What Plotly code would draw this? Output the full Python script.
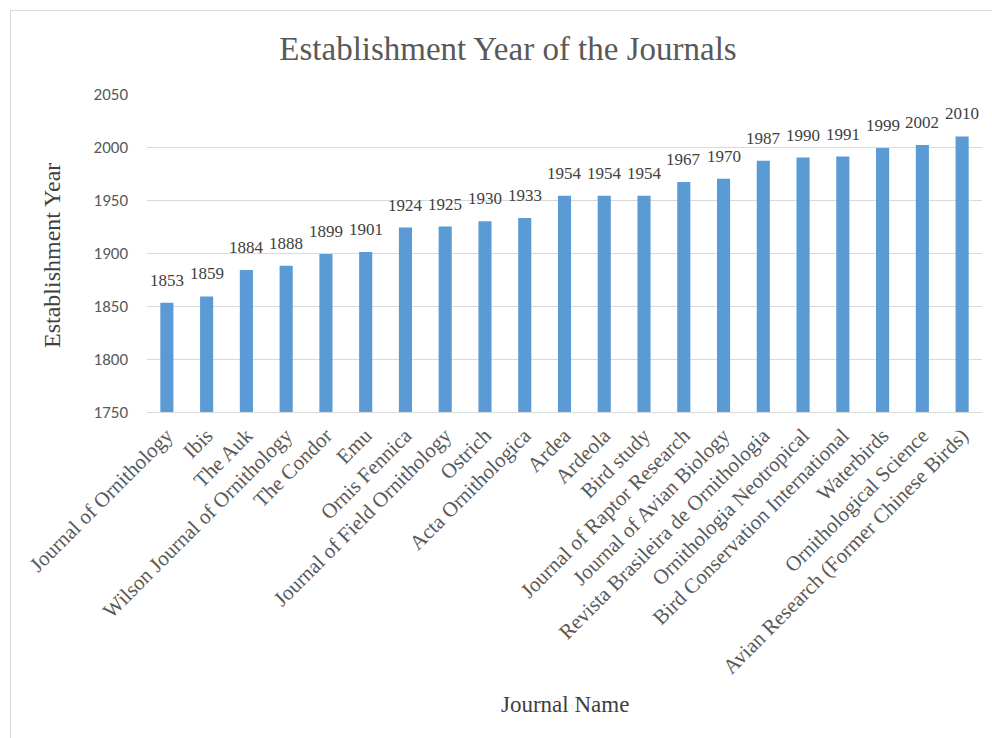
import plotly.graph_objects as go

journals = [
    "Journal of Ornithology", "Ibis", "The Auk", "Wilson Journal of Ornithology",
    "The Condor", "Emu", "Ornis Fennica", "Journal of Field Ornithology", "Ostrich",
    "Acta Ornithologica", "Ardea", "Ardeola", "Bird study", "Journal of Raptor Research",
    "Journal of Avian Biology", "Revista Brasileira de Ornithologia",
    "Ornithologia Neotropical", "Bird Conservation International", "Waterbirds",
    "Ornithological Science", "Avian Research (Former Chinese Birds)",
]
years = [1853, 1859, 1884, 1888, 1899, 1901, 1924, 1925, 1930, 1933, 1954, 1954,
         1954, 1967, 1970, 1987, 1990, 1991, 1999, 2002, 2010]
y_ticks = [1750, 1800, 1850, 1900, 1950, 2000, 2050]

SERIF = "Palatino Linotype, Book Antiqua, Palatino, Liberation Serif, serif"
SANS = "Calibri, Lato, Liberation Sans, sans-serif"

fig = go.Figure(go.Bar(
    x=journals, y=years,
    marker=dict(color="#5B9BD5", line=dict(width=0)),
    width=0.33, hoverinfo="x+y",
))

annotations = [
    dict(x=j, y=v, xref="x", yref="y", text=str(v), showarrow=False,
         yanchor="bottom", xanchor="center", yshift=11,
         font=dict(family=SERIF, size=17, color="#404040"))
    for j, v in zip(journals, years)
]
annotations.append(dict(text="Journal Name", xref="paper", yref="paper",
                        x=(565-147)/835, y=(412-704)/318, xanchor="center", yanchor="middle",
                        showarrow=False, font=dict(family=SERIF, size=23, color="#404040")))
annotations.append(dict(text="Establishment Year", xref="paper", yref="paper",
                        x=(52-147)/835, y=(412-256)/318, xanchor="center", yanchor="middle",
                        textangle=-90, showarrow=False,
                        font=dict(family=SERIF, size=24, color="#404040")))

fig.update_layout(
    width=992, height=738,
    margin=dict(l=147, r=10, t=94, b=326),
    paper_bgcolor="white", plot_bgcolor="white",
    showlegend=False,
    title=dict(text="Establishment Year of the Journals", x=508/992, xanchor="center",
               y=1-48/738, yanchor="middle",
               font=dict(family=SERIF, size=33, color="#595959")),
    xaxis=dict(tickangle=-45, tickfont=dict(family=SERIF, size=21, color="#595959"),
               showline=True, linecolor="#d9d9d9", linewidth=1, ticks="",
               ticklabelstandoff=2),
    yaxis=dict(range=[1750, 2050], tickvals=y_ticks, ticks="",
               tickfont=dict(family=SANS, size=17, color="#595959"),
               gridcolor="#d9d9d9", gridwidth=1, zeroline=False, ticklabelstandoff=18),
    annotations=annotations,
    shapes=[dict(type="rect", xref="paper", yref="paper",
                 x0=(10.5-147)/835, x1=1.05, y0=-1.2, y1=(412-10.5)/318,
                 line=dict(color="#d9d9d9", width=1), fillcolor="rgba(0,0,0,0)", layer="below")],
)

fig.write_html("out.html")
